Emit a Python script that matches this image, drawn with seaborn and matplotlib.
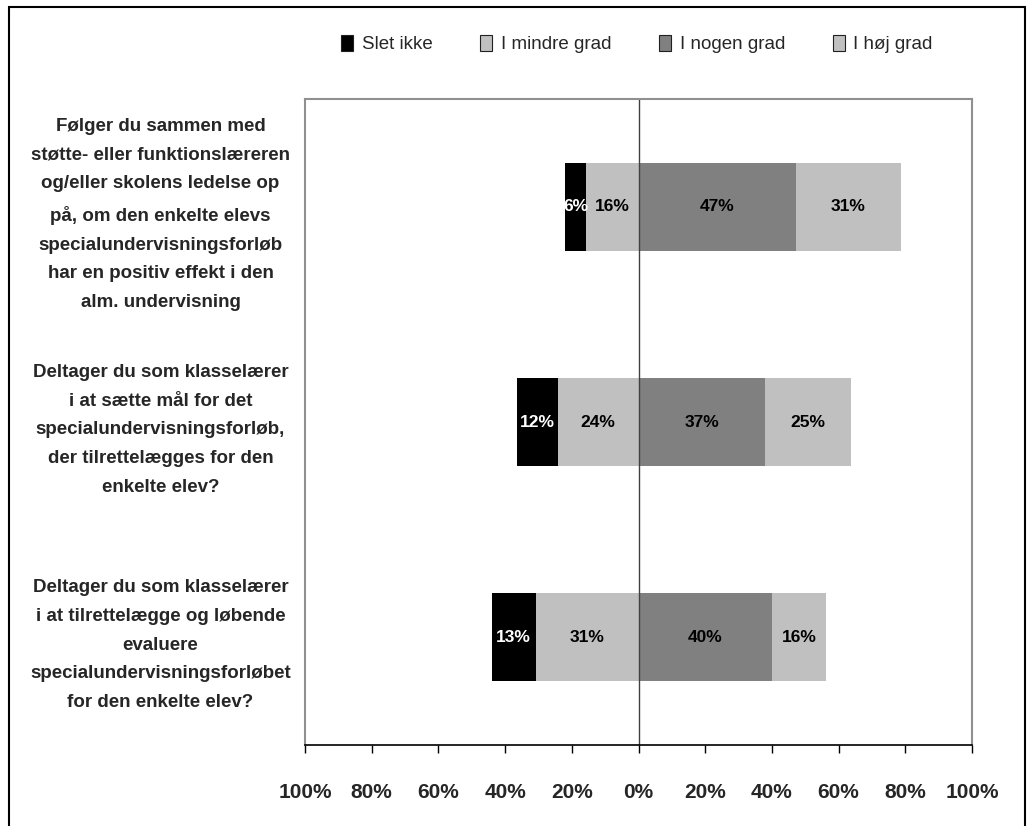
import matplotlib
matplotlib.use("Agg")
import matplotlib.pyplot as plt
from matplotlib.patches import Patch, Rectangle
import numpy as np
import pandas as pd
import seaborn as sns

questions = [
    "Følger du sammen med\nstøtte- eller funktionslæreren\nog/eller skolens ledelse op\npå, om den enkelte elevs\nspecialundervisningsforløb\nhar en positiv effekt i den\nalm. undervisning",
    "Deltager du som klasselærer\ni at sætte mål for det\nspecialundervisningsforløb,\nder tilrettelægges for den\nenkelte elev?",
    "Deltager du som klasselærer\ni at tilrettelægge og løbende\nevaluere\nspecialundervisningsforløbet\nfor den enkelte elev?",
]
series_names = ["Slet ikke", "I mindre grad", "I nogen grad", "I høj grad"]

# shares (percent)
slet_ikke = [6.3, 12.3, 13.2]
mindre_grad = [15.6, 24.2, 30.8]
nogen_grad = [47.1, 38.0, 40.1]
hoej_grad = [31.5, 25.8, 16.2]

# labels as printed on the bars
slet_lbl = ["6%", "12%", "13%"]
mindre_lbl = ["16%", "24%", "31%"]
nogen_lbl = ["47%", "37%", "40%"]
hoej_lbl = ["31%", "25%", "16%"]

colors = {"Slet ikke": "#000000", "I mindre grad": "#C0C0C0",
          "I nogen grad": "#808080", "I høj grad": "#C0C0C0"}

df = pd.DataFrame({
    "q": questions,
    "slet": slet_ikke,
    "mindre": mindre_grad,
    "nogen": nogen_grad,
    "hoej": hoej_grad,
})
df["left_total"] = -(df["slet"] + df["mindre"])
df["left_inner"] = -df["mindre"]
df["right_total"] = df["nogen"] + df["hoej"]
df["right_inner"] = df["nogen"]

sns.set_theme(style="white")
plt.rcParams["font.family"] = ["Liberation Sans", "DejaVu Sans"]

fig = plt.figure(figsize=(10.27, 8.26), dpi=100)
ax = fig.add_axes([305 / 1027, 1 - 745 / 826, (972 - 305) / 1027, (745 - 99) / 826])

bw = 0.41
# stacked look: draw the totals first, then overlay the inner segments
sns.barplot(data=df, x="left_total", y="q", orient="h", color=colors["Slet ikke"],
            width=bw, saturation=1, ax=ax)
sns.barplot(data=df, x="left_inner", y="q", orient="h", color=colors["I mindre grad"],
            width=bw, saturation=1, ax=ax)
sns.barplot(data=df, x="right_total", y="q", orient="h", color=colors["I høj grad"],
            width=bw, saturation=1, ax=ax)
sns.barplot(data=df, x="right_inner", y="q", orient="h", color=colors["I nogen grad"],
            width=bw, saturation=1, ax=ax)
for p in ax.patches:
    p.set_linewidth(0)

# value labels
for i, row in df.iterrows():
    segs = [
        ((row["left_total"] + row["left_inner"]) / 2, slet_lbl[i], "white"),
        (row["left_inner"] / 2, mindre_lbl[i], "black"),
        (row["right_inner"] / 2, nogen_lbl[i], "black"),
        ((row["right_inner"] + row["right_total"]) / 2, hoej_lbl[i], "black"),
    ]
    for xc, txt, c in segs:
        ax.text(xc, i, txt, ha="center", va="center", color=c,
                fontsize=12.5, fontweight="bold")

ax.axvline(0, color="#404040", lw=1)

ax.set_xlim(-100, 100)
ax.set_ylim(2.5, -0.5)
ticks = np.arange(-100, 101, 20)
ax.set_xticks(ticks)
ax.set_xticklabels([f"{abs(t)}%" for t in ticks], fontsize=15, fontweight="bold")
ax.set_xlabel("")
ax.set_ylabel("")
ax.tick_params(axis="x", direction="out", length=6, width=1, color="black",
               bottom=True, pad=21)
ax.tick_params(axis="y", length=0, pad=104)
for lbl in ax.get_yticklabels():
    lbl.set_ha("center")
    lbl.set_multialignment("center")
    lbl.set_fontsize(13.5)
    lbl.set_fontweight("bold")
    lbl.set_linespacing(1.9)

for side in ["top", "left", "right"]:
    ax.spines[side].set_color("#909090")
    ax.spines[side].set_linewidth(1.5)
ax.spines["bottom"].set_color("black")
ax.spines["bottom"].set_linewidth(1.2)

handles = [Patch(facecolor=colors[n], edgecolor="#202020", lw=0.8, label=n)
           for n in series_names]
fig.legend(handles=handles, loc="center", bbox_to_anchor=(637 / 1027, 1 - 44 / 826),
           ncol=4, frameon=False, fontsize=13.5, handlelength=0.64, handleheight=1.0,
           handletextpad=0.45, columnspacing=2.55)

# outer border of the chart area
fig.patches.append(Rectangle((9 / 1027, -0.01), (1025 - 9) / 1027, 1.0015,
                             transform=fig.transFigure, fill=False,
                             edgecolor="black", lw=1.5))

fig.savefig("out.png", dpi=100)
